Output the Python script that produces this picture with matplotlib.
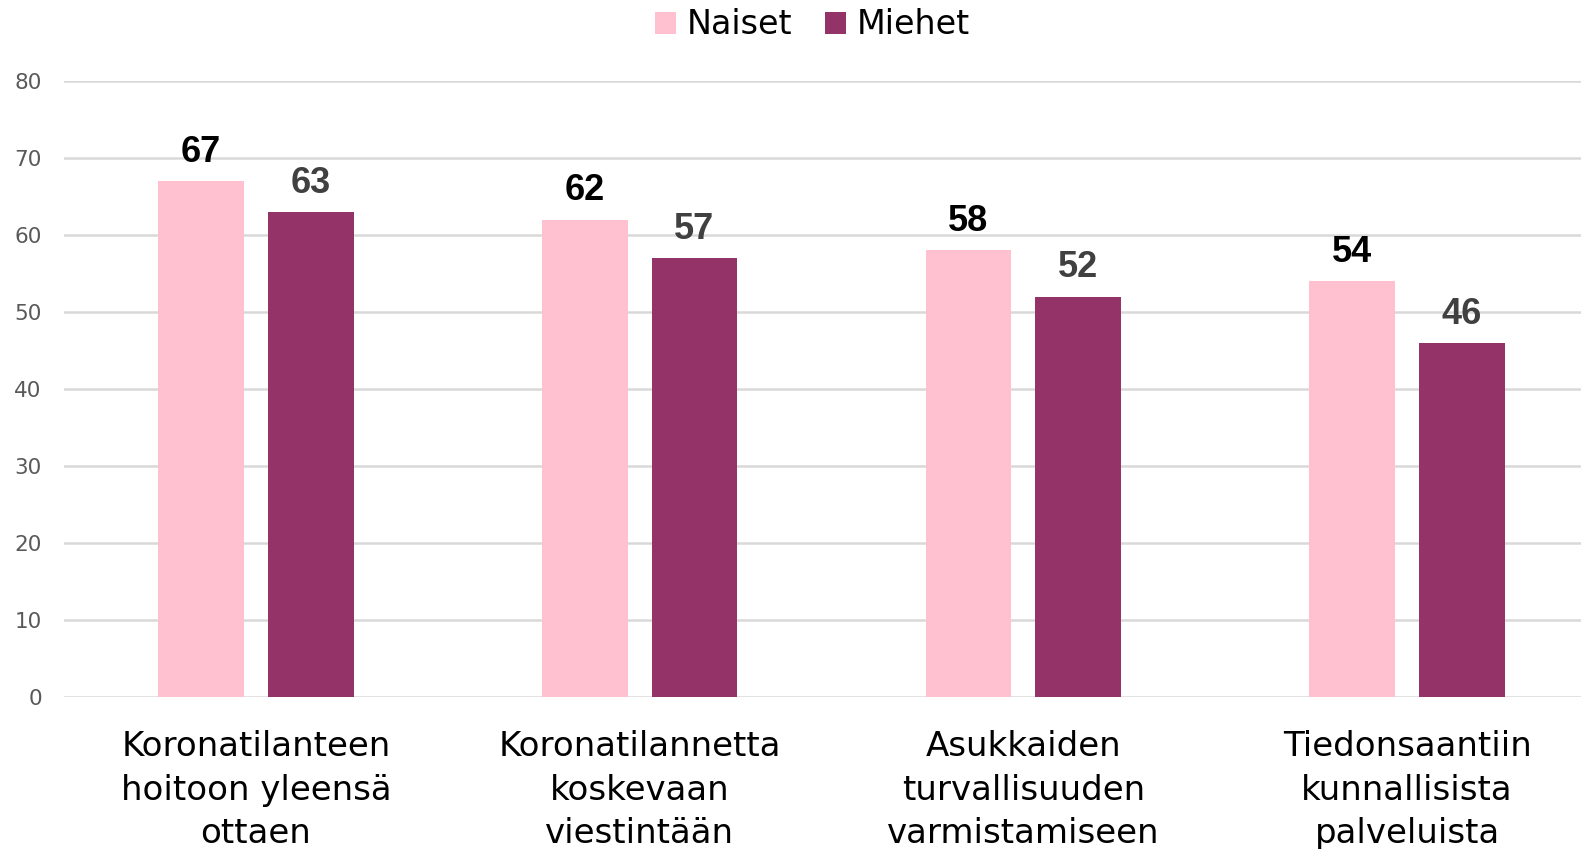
import numpy as np
import matplotlib.pyplot as plt

categories = ["Koronatilanteen\nhoitoon yleensä\nottaen",
              "Koronatilannetta\nkoskevaan\nviestintään",
              "Asukkaiden\nturvallisuuden\nvarmistamiseen",
              "Tiedonsaantiin\nkunnallisista\npalveluista"]
naiset = [67, 62, 58, 54]
miehet = [63, 57, 52, 46]

pink = "#FFC0CF"
purple = "#933367"
grid_col = "#D9D9D9"

plt.rcParams['font.family'] = ['DejaVu Sans']

fig = plt.figure(figsize=(15.81, 8.49), dpi=100)
# axes run a bit past the right edge, like the original
ax = fig.add_axes([64 / 1581, 152 / 849, 1535 / 1581, (697 - 81) / 849])

x = np.arange(len(categories))
w = 0.224
off = 0.143
b1 = ax.bar(x - off, naiset, w, color=pink, label="Naiset", zorder=3)
b2 = ax.bar(x + off, miehet, w, color=purple, label="Miehet", zorder=3)

for bars, vals, col in [(b1, naiset, "black"), (b2, miehet, "#404040")]:
    for rect, v in zip(bars, vals):
        ax.annotate(str(v), (rect.get_x() + rect.get_width() / 2, v), xytext=(0, 8),
                    textcoords="offset points", ha="center", va="bottom",
                    fontsize=26, fontweight="bold", color=col, family="Liberation Sans")

ax.set_xlim(-0.5, len(categories) - 0.5)
ax.set_ylim(0, 80)
ax.set_yticks(range(0, 81, 10))
ax.yaxis.grid(True, color=grid_col, linewidth=1.8, zorder=0)
ax.set_axisbelow(True)
for s in ax.spines.values():
    s.set_visible(False)
ax.tick_params(axis="y", length=0, labelsize=15.5, labelcolor="#595959", pad=16)
ax.tick_params(axis="x", length=0, labelsize=24.5, pad=24)
ax.set_xticks(x)
ax.set_xticklabels(categories, linespacing=1.4)

fig.legend(handles=[b1, b2], loc="center", bbox_to_anchor=(0.514, 1 - 25 / 849), ncol=2,
           frameon=False, fontsize=24, handlelength=0.62, handleheight=0.62,
           handletextpad=0.33, columnspacing=1.0)

fig.savefig("out.png", dpi=100)
